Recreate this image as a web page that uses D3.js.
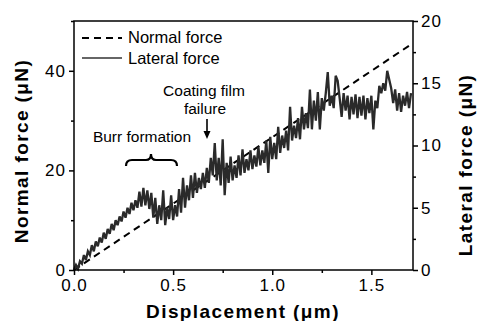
<!DOCTYPE html>
<html><head><meta charset="utf-8">
<script src="https://cdn.jsdelivr.net/npm/d3@7"></script>
<style>
html,body{margin:0;padding:0;background:#fff;}
svg{display:block;font-family:"Liberation Sans",Arial,sans-serif;}
</style></head>
<body>
<svg id="chart" width="477" height="321"></svg>
<script>
// ---- data ----
const displacementStep = 0.01; // µm between lateral samples
const lateralForce = [
0.0,0.4,0.1,0.7,0.5,1.2,0.8,1.5,1.2,2.0,
1.5,2.3,1.9,2.6,2.2,3.0,2.5,3.3,2.9,3.7,
3.2,4.0,3.6,4.3,3.9,4.7,4.2,5.0,4.5,5.4,
4.8,5.6,5.0,6.3,5.1,6.6,5.2,6.4,4.9,6.2,
4.2,5.8,3.7,5.2,4.0,6.4,3.6,5.0,4.1,6.0,
4.0,5.2,4.3,6.5,4.6,7.4,5.0,6.8,5.6,7.6,
5.8,7.8,6.2,7.4,6.5,7.8,6.6,8.2,7.0,9.0,
7.6,10.2,7.2,9.0,6.8,10.5,6.0,8.6,7.0,9.1,
7.2,8.4,7.4,9.2,7.6,9.7,7.8,8.9,8.0,9.6,
8.1,9.2,8.3,9.9,8.4,9.6,8.6,10.4,7.8,10.7,
8.9,10.2,8.9,11.5,9.4,10.8,9.8,11.2,9.6,13.1,
10.4,11.6,10.6,12.2,10.5,13.1,11.3,12.6,11.4,14.5,
11.3,13.6,12.0,14.3,11.3,13.8,12.8,14.2,15.9,13.2,
14.0,13.0,15.6,15.2,13.8,12.3,14.2,12.8,14.0,12.1,
13.9,12.5,14.1,12.2,13.9,12.4,14.0,12.1,13.8,12.6,
14.0,11.3,13.6,13.0,14.8,14.2,15.0,14.4,16.0,15.3,
14.6,13.4,14.5,12.8,14.2,12.7,14.0,13.2,14.3,13.0,
14.2
];
const normalDisplacement = [0, 1.70];
const normalForce = [0, 45.3];

const xMajor = [0, 0.5, 1.0, 1.5];
const xMinor = [0.25, 0.75, 1.25];
const yLeftMajor = [0, 20, 40];
const yLeftMinor = [10, 30, 50];
const yRightMajor = [0, 5, 10, 15, 20];
const yRightMinor = [2.5, 7.5, 12.5, 17.5];
const legendLabels = ["Normal force", "Lateral force"];

// ---- layout ----
const L = 74, R = 413, T = 21, B = 270;
const svg = d3.select("#chart");
const x = d3.scaleLinear([0, 1.71], [L, R]);
const yL = d3.scaleLinear([0, 50], [B, T]);
const yR = d3.scaleLinear([0, 20], [B, T]);

const tickFont = "17px";

function styleAxis(g){
  g.select(".domain").remove();
  g.selectAll(".tick line").attr("stroke","#000").attr("stroke-width",1.5);
  g.selectAll(".tick text").attr("font-size",tickFont).attr("fill","#000")
    .attr("font-family","Liberation Sans, Arial, sans-serif").style("letter-spacing","1px");
}
svg.append("g").attr("transform",`translate(0,${B})`)
  .call(d3.axisBottom(x).tickValues(xMajor).tickFormat(d3.format(".1f")).tickSize(5).tickPadding(4))
  .call(styleAxis);
svg.append("g").attr("transform",`translate(0,${B})`)
  .call(d3.axisBottom(x).tickValues(xMinor).tickFormat("").tickSize(3)).call(styleAxis);
svg.append("g").attr("transform",`translate(${L},0)`)
  .call(d3.axisLeft(yL).tickValues(yLeftMajor).tickFormat(d3.format("d")).tickSize(5).tickPadding(3))
  .call(styleAxis);
svg.append("g").attr("transform",`translate(${L},0)`)
  .call(d3.axisLeft(yL).tickValues(yLeftMinor).tickFormat("").tickSize(3)).call(styleAxis);
svg.append("g").attr("transform",`translate(${R},0)`)
  .call(d3.axisRight(yR).tickValues(yRightMajor).tickFormat(d3.format("d")).tickSize(5).tickPadding(3))
  .call(styleAxis);
svg.append("g").attr("transform",`translate(${R},0)`)
  .call(d3.axisRight(yR).tickValues(yRightMinor).tickFormat("").tickSize(3)).call(styleAxis);

// normal force dashed line (left axis)
const normData = normalDisplacement.map((d,i)=>[d, normalForce[i]]);
svg.append("path").datum(normData)
  .attr("fill","none").attr("stroke","#000").attr("stroke-width",2)
  .attr("stroke-dasharray","7,5")
  .attr("d", d3.line().x(d=>x(d[0])).y(d=>yL(d[1])));

// lateral force line (right axis)
const latData = lateralForce.map((v,i)=>[i*displacementStep, v]);
svg.append("path").datum(latData)
  .attr("fill","none").attr("stroke","#2a2a2a").attr("stroke-width",2.3)
  .attr("stroke-linejoin","miter").attr("stroke-miterlimit",3)
  .attr("d", d3.line().x(d=>x(d[0])).y(d=>yR(d[1])));

// frame
svg.append("rect").attr("x",L).attr("y",T).attr("width",R-L).attr("height",B-T)
  .attr("fill","none").attr("stroke","#000").attr("stroke-width",1.5);

// legend
svg.append("line").attr("x1",82).attr("x2",122).attr("y1",38).attr("y2",38)
  .attr("stroke","#000").attr("stroke-width",2).attr("stroke-dasharray","7,5");
svg.append("line").attr("x1",82).attr("x2",122).attr("y1",58).attr("y2",58)
  .attr("stroke","#333").attr("stroke-width",1.5);
svg.selectAll(".leg").data(legendLabels).enter().append("text")
  .attr("x",128).attr("y",(d,i)=>43+i*21).attr("font-size","16.5px").text(d=>d);

// annotations
const ann = svg.append("g").attr("font-size","15.5px").attr("text-anchor","middle");
ann.append("text").attr("x",142).attr("y",142).text("Burr formation");
ann.append("text").attr("x",204).attr("y",96).text("Coating film");
ann.append("text").attr("x",205).attr("y",114).text("failure");
svg.append("path")
  .attr("d","M126,166 Q126,160 132,160 L146,160 Q151,160 151,154 Q151,160 156,160 L171,160 Q177,160 177,166")
  .attr("fill","none").attr("stroke","#000").attr("stroke-width",2.2);
svg.append("line").attr("x1",207).attr("x2",207).attr("y1",119).attr("y2",133)
  .attr("stroke","#000").attr("stroke-width",1.6);
svg.append("path").attr("d","M203.5,131 L210.5,131 L207,139 Z").attr("fill","#000");

// axis titles
svg.append("text").attr("x",243).attr("y",318).attr("text-anchor","middle")
  .attr("font-size","19px").attr("font-weight","bold").style("letter-spacing","1.4px")
  .text("Displacement (\u03bcm)");
svg.append("text").attr("transform","translate(28,151) rotate(-90)").attr("text-anchor","middle")
  .attr("font-size","19px").attr("font-weight","bold").style("letter-spacing","1.4px")
  .text("Normal force (\u03bcN)");
svg.append("text").attr("transform","translate(472,165) rotate(-90)").attr("text-anchor","middle")
  .attr("font-size","19px").attr("font-weight","bold").style("letter-spacing","1.4px")
  .text("Lateral force (\u03bcN)");
</script>
</body></html>
